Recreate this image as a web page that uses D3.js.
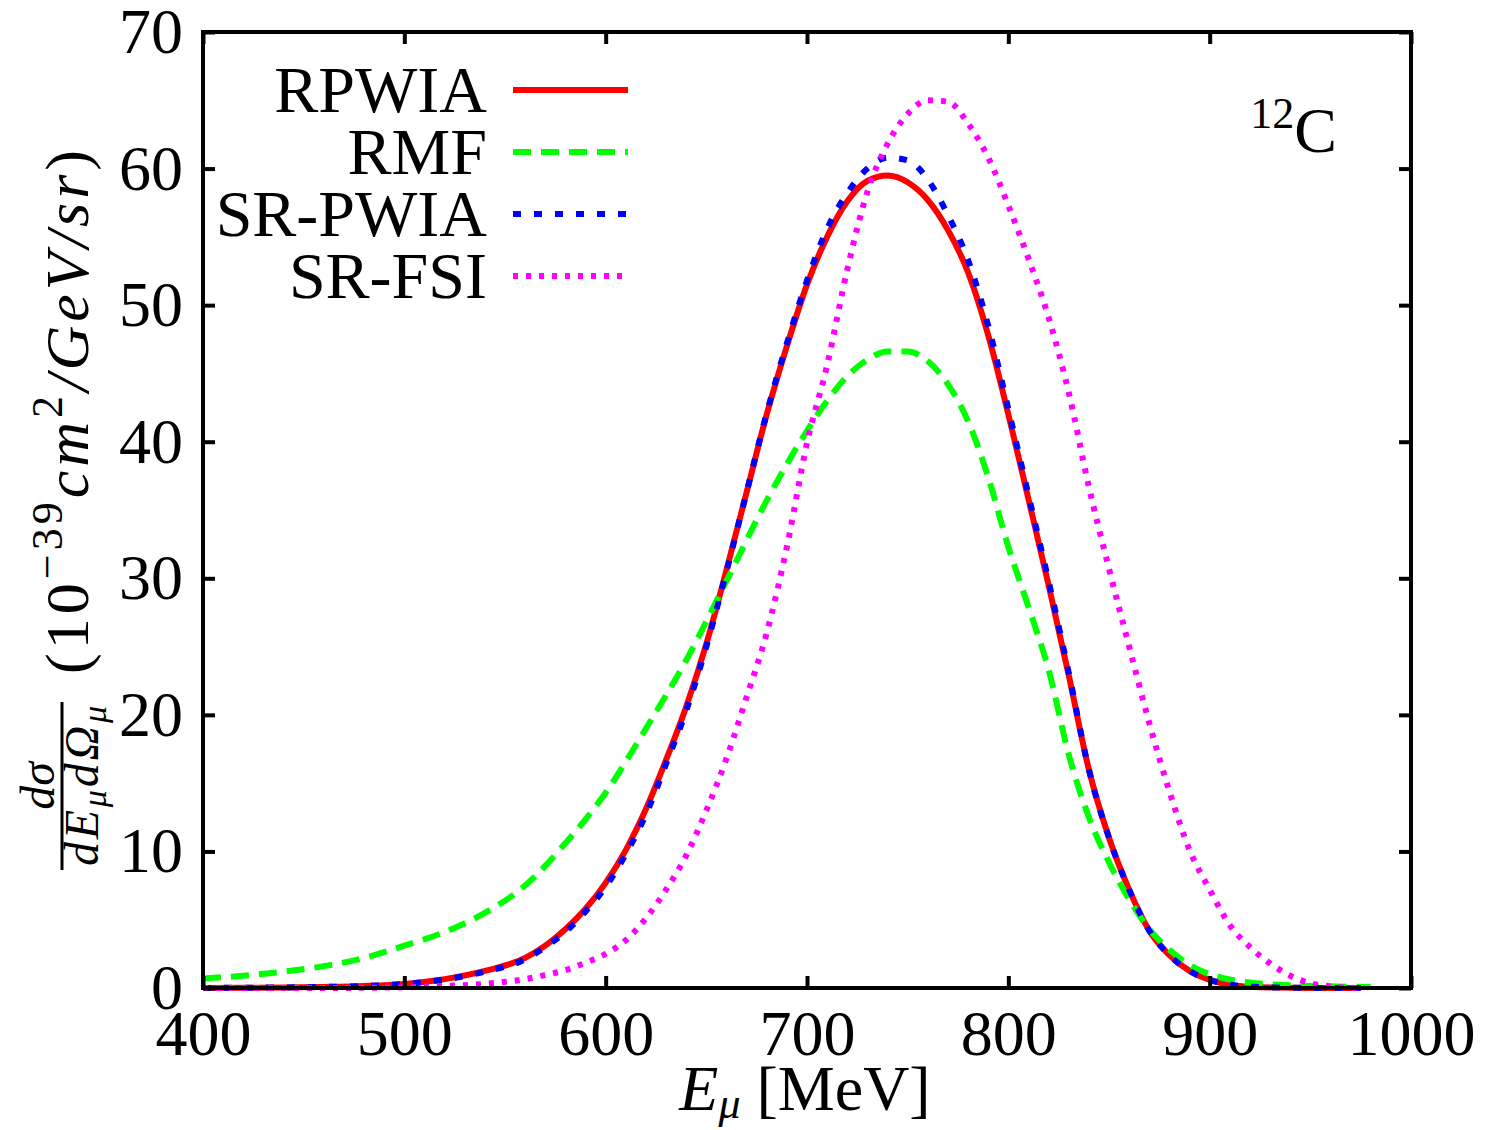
<!DOCTYPE html>
<html>
<head>
<meta charset="utf-8">
<script src="https://cdn.jsdelivr.net/npm/d3@7"></script>
<style>
body{margin:0;background:#fff;}
text{font-family:"Liberation Serif","Times New Roman",serif;fill:#000;}
</style>
</head>
<body>
<div id="ChartPart"></div>
<script>
//Data of the chart----------------------------------------------------------------------------------
var SeriesNames = ["RPWIA","RMF","SR-PWIA","SR-FSI"];
var XTicks = [400,500,600,700,800,900,1000];
var YTicks = [0,10,20,30,40,50,60,70];

var RpwiaE = [400,420,440,460,480,500,520,540,560,570,580,590,600,610,620,630,640,650,660,670,680,690,700,710,720,730,740,750,760,770,780,790,800,810,820,830,840,850,860,870,880,890,900,910,920,940,960,975];
var RpwiaV = [0,0.02,0.04,0.08,0.15,0.3,0.65,1.25,2.2,3.1,4.3,5.8,7.7,10.1,13.1,16.7,20.6,25.2,30.6,36.3,42.0,47.0,51.5,55.0,57.6,59.1,59.5,59.0,57.7,55.5,52.4,47.8,42.0,35.8,29.5,22.9,16.0,11.0,7.2,4.2,2.4,1.25,0.6,0.25,0.1,0.02,0,0];

var RmfE = [400,420,440,460,480,500,520,540,560,580,600,620,640,660,680,700,710,720,730,740,750,760,770,780,790,800,810,820,830,840,850,860,870,880,890,900,910,920,940,960,980];
var RmfV = [0.7,0.9,1.2,1.6,2.2,3.1,4.1,5.5,7.5,10.6,14.3,19.0,24.0,29.8,35.7,40.8,43.0,44.8,46.0,46.6,46.6,45.9,44.2,41.5,37.4,32.3,27.9,23.3,17.1,12.5,9.2,6.5,4.3,2.8,1.7,1.0,0.62,0.4,0.2,0.12,0.08];

var SrPwiaE = [400,420,440,460,480,500,520,540,560,570,580,590,600,610,620,630,640,650,660,670,680,690,700,710,720,730,740,750,760,770,780,790,800,810,820,830,840,850,860,870,880,890,900,910,920,940,960,975];
var SrPwiaV = [0,0.02,0.04,0.08,0.15,0.3,0.62,1.2,2.1,3.0,4.1,5.6,7.4,9.8,12.7,16.4,20.3,25.0,30.5,36.3,42.1,47.2,51.8,55.6,58.2,60.0,60.8,60.6,59.2,56.6,53.3,48.5,42.4,36.1,29.8,23.1,16.0,11.0,7.2,4.2,2.4,1.25,0.6,0.25,0.1,0.02,0,0];

var SrFsiE = [400,460,500,520,540,550,560,570,580,590,600,610,620,630,640,650,660,670,680,690,700,710,720,730,740,750,760,770,780,790,800,810,820,830,840,850,860,870,880,890,900,910,920,930,940,950,960,975];
var SrFsiV = [0,0,0.05,0.15,0.3,0.45,0.65,0.95,1.3,1.85,2.5,3.5,5.1,7.2,9.7,13.0,16.8,21.3,26.0,32.3,39.9,45.6,52.6,58.3,61.8,64.0,65.0,64.9,63.3,60.8,57.3,53.4,49.1,43.6,36.7,30.7,25.0,19.4,14.4,10.1,7.2,4.6,3.0,1.8,0.9,0.35,0.12,0];

var SeriesColor = ["#ff0000","#00ff00","#0000ff","#ff00ff"];
var SeriesDash = [null,"18,10","8,13","5,8"];

//Size of the picture and the plot frame----------------------------------------------------------
var SvgWidth = 1489;
var SvgHeight = 1130;
var FrameLeft = 203;
var FrameRight = 1411;
var FrameTop = 32;
var FrameBottom = 988;

var XScale = d3.scaleLinear().domain([400,1000]).range([FrameLeft,FrameRight]);
var YScale = d3.scaleLinear().domain([0,70]).range([FrameBottom,FrameTop]);

var ChartSvg = d3.select("#ChartPart")
	.append("svg")
	.attr("id","ChartSvg")
	.attr("width",SvgWidth)
	.attr("height",SvgHeight);

//Curves------------------------------------------------------------------------------------------
function DrawCurve(EList,VList,Index)
{
	var Points = [];
	for(var i=0;i<EList.length;i++)
		{
			Points.push([EList[i],VList[i]]);
		}
	var Line = d3.line()
		.x(function(d){return XScale(d[0]);})
		.y(function(d){return YScale(d[1]);})
		.curve(d3.curveMonotoneX);
	ChartSvg.append("path")
		.datum(Points)
		.attr("d",Line)
		.attr("fill","none")
		.attr("stroke",SeriesColor[Index])
		.attr("stroke-width",6)
		.attr("stroke-dasharray",SeriesDash[Index]);
}

DrawCurve(RpwiaE,RpwiaV,0);
DrawCurve(RmfE,RmfV,1);
DrawCurve(SrPwiaE,SrPwiaV,2);
DrawCurve(SrFsiE,SrFsiV,3);

//Axes with ticks pointing inside----------------------------------------------------------------
var AxisBottom = ChartSvg.append("g")
	.attr("transform","translate(0,"+FrameBottom+")")
	.call(d3.axisBottom(XScale).tickValues(XTicks).tickFormat(d3.format("d")).tickSizeInner(-12).tickSizeOuter(0).tickPadding(22));
var AxisLeft = ChartSvg.append("g")
	.attr("transform","translate("+FrameLeft+",0)")
	.call(d3.axisLeft(YScale).tickValues(YTicks).tickSizeInner(-12).tickSizeOuter(0).tickPadding(20));
var AxisTop = ChartSvg.append("g")
	.attr("transform","translate(0,"+FrameTop+")")
	.call(d3.axisTop(XScale).tickValues(XTicks).tickSizeInner(-12).tickSizeOuter(0).tickFormat(""));
var AxisRight = ChartSvg.append("g")
	.attr("transform","translate("+FrameRight+",0)")
	.call(d3.axisRight(YScale).tickValues(YTicks).tickSizeInner(-12).tickSizeOuter(0).tickFormat(""));

ChartSvg.selectAll(".domain").remove();
ChartSvg.selectAll(".tick line").attr("stroke","#000").attr("stroke-width",4);
ChartSvg.selectAll(".tick text")
	.style("font-family","'Liberation Serif',serif")
	.style("font-size","64px")
	.attr("fill","#000");

ChartSvg.append("rect")
	.attr("x",FrameLeft)
	.attr("y",FrameTop)
	.attr("width",FrameRight-FrameLeft)
	.attr("height",FrameBottom-FrameTop)
	.attr("fill","none")
	.attr("stroke","#000")
	.attr("stroke-width",4);

//Legend---------------------------------------------------------------------------------------------
for(var i=0;i<SeriesNames.length;i++)
	{
		var RowY = 90 + i*62;
		ChartSvg.append("text")
			.attr("x",487)
			.attr("y",RowY+22)
			.attr("text-anchor","end")
			.style("font-size","66px")
			.text(SeriesNames[i]);
		ChartSvg.append("line")
			.attr("x1",513)
			.attr("x2",628)
			.attr("y1",RowY)
			.attr("y2",RowY)
			.attr("stroke",SeriesColor[i])
			.attr("stroke-width",6)
			.attr("stroke-dasharray",SeriesDash[i]);
	}

//Nucleus label----------------------------------------------------------------------------------------
var Nucleus = ChartSvg.append("text")
	.attr("x",1337)
	.attr("y",152)
	.attr("text-anchor","end")
	.style("font-size","64px");
Nucleus.append("tspan").attr("dy",-24).style("font-size","44px").text("12");
Nucleus.append("tspan").attr("dy",24).text("C");

//X axis title-------------------------------------------------------------------------------------
var XTitle = ChartSvg.append("text")
	.attr("x",805)
	.attr("y",1110)
	.attr("text-anchor","middle")
	.style("font-size","64px");
XTitle.append("tspan").style("font-style","italic").text("E");
XTitle.append("tspan").attr("dy",8).style("font-size","44px").style("font-style","italic").text("μ");
XTitle.append("tspan").attr("dy",-8).text(" [MeV]");

//Y axis title (rotated)-------------------------------------------------------------------------------
var YTitle = ChartSvg.append("g")
	.attr("transform","rotate(-90)");

var YMain = YTitle.append("text")
	.attr("x",-674)
	.attr("y",88)
	.attr("text-anchor","start")
	.attr("textLength",524)
	.attr("lengthAdjust","spacing")
	.style("font-size","62px");
YMain.append("tspan").text("(10");
YMain.append("tspan").attr("dy",-26).style("font-size","44px").text("−39");
YMain.append("tspan").attr("dy",26).style("font-style","italic").text("cm");
YMain.append("tspan").attr("dy",-26).style("font-size","44px").text("2");
YMain.append("tspan").attr("dy",26).style("font-style","italic").text("/GeV/sr");
YMain.append("tspan").text(")");

ChartSvg.append("line")
	.attr("x1",62)
	.attr("x2",62)
	.attr("y1",702)
	.attr("y2",870)
	.attr("stroke","#000")
	.attr("stroke-width",3);

var YNum = YTitle.append("text")
	.attr("x",-786)
	.attr("y",54)
	.attr("text-anchor","middle")
	.style("font-size","48px")
	.style("font-style","italic")
	.text("dσ");

var YDen = YTitle.append("text")
	.attr("x",-786)
	.attr("y",98)
	.attr("text-anchor","middle")
	.attr("textLength",160)
	.attr("lengthAdjust","spacing")
	.style("font-size","48px")
	.style("font-style","italic");
YDen.append("tspan").text("dE");
YDen.append("tspan").attr("dy",8).style("font-size","34px").text("μ");
YDen.append("tspan").attr("dy",-8).text("dΩ");
YDen.append("tspan").attr("dy",8).style("font-size","34px").text("μ");
</script>
</body>
</html>
